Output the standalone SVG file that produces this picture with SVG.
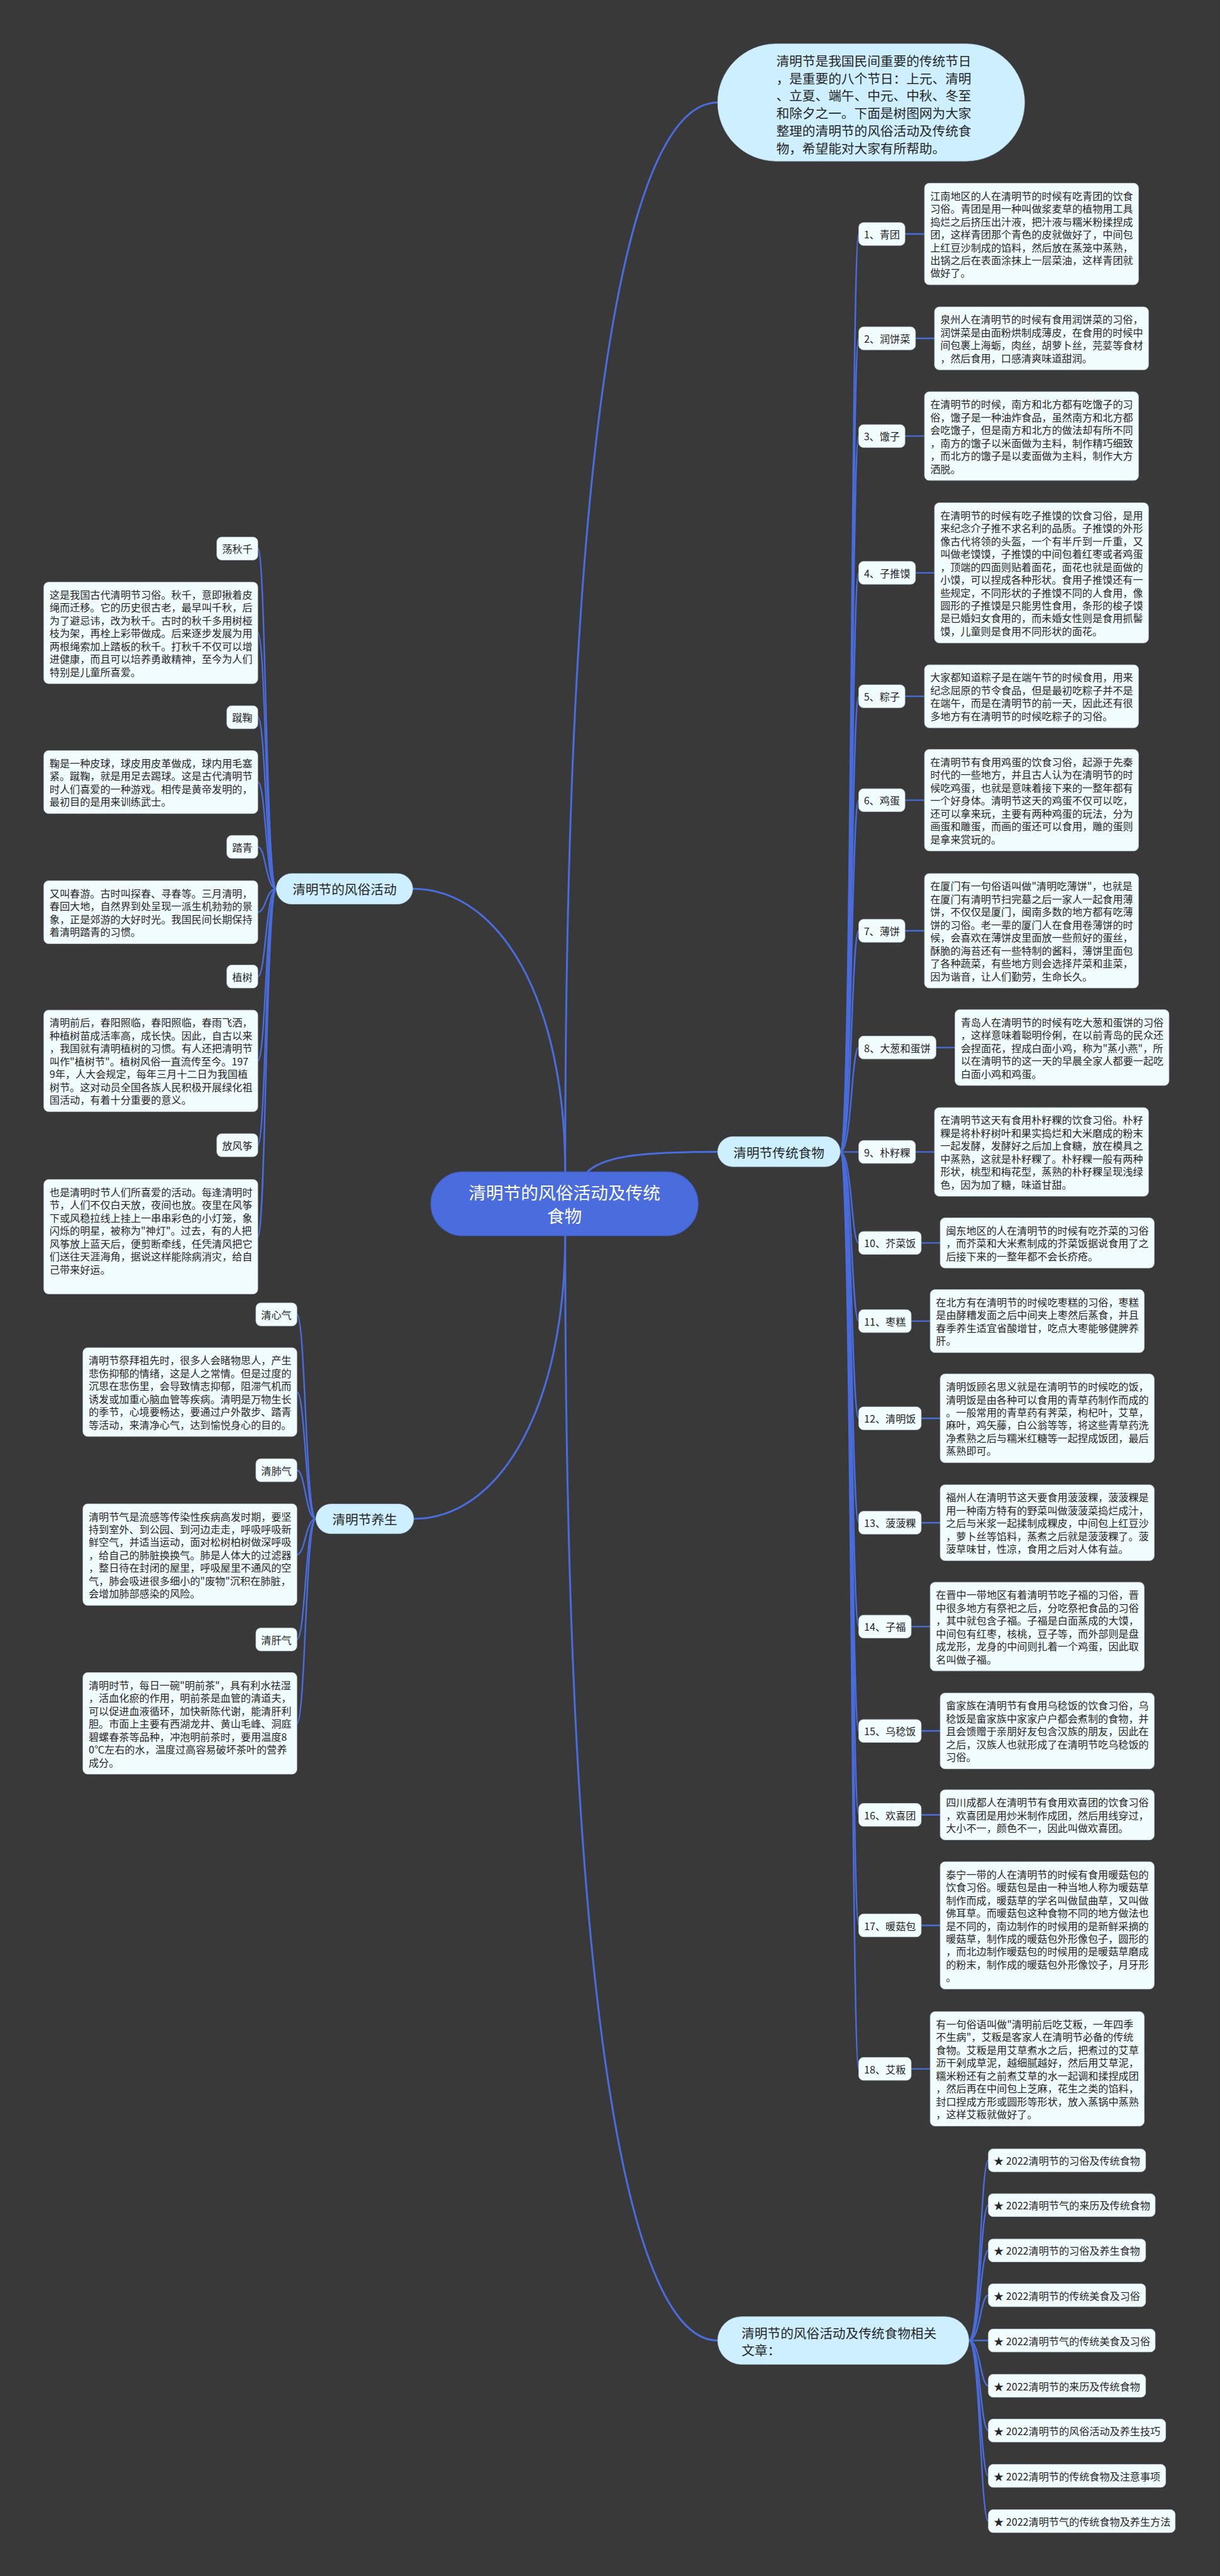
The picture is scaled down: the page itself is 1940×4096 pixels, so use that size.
<svg xmlns="http://www.w3.org/2000/svg" width="1940" height="4096" viewBox="0 0 1940 4096">
<style>
.bg{fill:#393939}
.ln{fill:none;stroke:#4a6cdc;stroke-width:3.2;stroke-linecap:round}
.ln0{fill:none;stroke:#4a6cdc;stroke-width:4;stroke-linecap:round}
.leaf{fill:#f1fcff;stroke:#cfdde3;stroke-width:1}
.br{fill:#cdefff;stroke:#b8dcec;stroke-width:1}
.root{fill:#4a6cdc;stroke:#3f5fc8;stroke-width:1.5}
text{font-family:"Noto Sans CJK SC","Noto Sans",sans-serif;fill:#262626}
text,tspan{dominant-baseline:central}
.t{font-size:21.3px}
.lb{font-size:21.3px;text-anchor:middle}
.bt{font-size:27.3px}
.bc{font-size:27.3px;text-anchor:middle}
.rt{font-size:36.6px;text-anchor:middle;fill:#ffffff}
</style>
<rect class="bg" x="0" y="0" width="1940" height="4096"/>
<g transform="scale(0.7578)">
<g id="connectors">
<path class="ln0" d="M1186,2459 C1186,800 1330,215 1506,215"/>
<path class="ln0" d="M1229,2462 C1262,2428 1330,2417 1506,2417"/>
<path class="ln0" d="M1186,2459 C1186,2100 1050,1865 866,1865"/>
<path class="ln0" d="M1186,2593 C1186,2950 1050,3187 868,3187"/>
<path class="ln0" d="M1186,2593 C1186,4300 1330,4911 1506,4911"/>
<path class="ln" d="M1763,2417 C1788,2417 1786,491 1802,491"/>
<path class="ln" d="M1763,2417 C1788,2417 1786,710 1802,710"/>
<path class="ln" d="M1763,2417 C1788,2417 1786,915 1802,915"/>
<path class="ln" d="M1763,2417 C1788,2417 1786,1202 1802,1202"/>
<path class="ln" d="M1763,2417 C1788,2417 1786,1461 1802,1461"/>
<path class="ln" d="M1763,2417 C1788,2417 1786,1679 1802,1679"/>
<path class="ln" d="M1763,2417 C1788,2417 1786,1953 1802,1953"/>
<path class="ln" d="M1763,2417 C1788,2417 1786,2198 1802,2198"/>
<path class="ln" d="M1763,2417 L1802,2417"/>
<path class="ln" d="M1763,2417 C1788,2417 1786,2608 1802,2608"/>
<path class="ln" d="M1763,2417 C1788,2417 1786,2772 1802,2772"/>
<path class="ln" d="M1763,2417 C1788,2417 1786,2976 1802,2976"/>
<path class="ln" d="M1763,2417 C1788,2417 1786,3195 1802,3195"/>
<path class="ln" d="M1763,2417 C1788,2417 1786,3413 1802,3413"/>
<path class="ln" d="M1763,2417 C1788,2417 1786,3632 1802,3632"/>
<path class="ln" d="M1763,2417 C1788,2417 1786,3808 1802,3808"/>
<path class="ln" d="M1763,2417 C1788,2417 1786,4040 1802,4040"/>
<path class="ln" d="M1763,2417 C1788,2417 1786,4341 1802,4341"/>
<path class="ln" d="M1899,491 H1940"/>
<path class="ln" d="M1921,710 H1961"/>
<path class="ln" d="M1899,915 H1940"/>
<path class="ln" d="M1921,1202 H1961"/>
<path class="ln" d="M1899,1461 H1940"/>
<path class="ln" d="M1899,1679 H1940"/>
<path class="ln" d="M1899,1953 H1940"/>
<path class="ln" d="M1964,2198 H2004"/>
<path class="ln" d="M1921,2417 H1961"/>
<path class="ln" d="M1933,2608 H1973"/>
<path class="ln" d="M1912,2772 H1952"/>
<path class="ln" d="M1933,2976 H1973"/>
<path class="ln" d="M1933,3195 H1973"/>
<path class="ln" d="M1912,3413 H1952"/>
<path class="ln" d="M1933,3632 H1973"/>
<path class="ln" d="M1933,3808 H1973"/>
<path class="ln" d="M1933,4040 H1973"/>
<path class="ln" d="M1912,4341 H1952"/>
<path class="ln" d="M580,1865 C558,1865 558,1151 541,1151"/>
<path class="ln" d="M580,1865 C558,1865 558,1328 541,1328"/>
<path class="ln" d="M580,1865 C558,1865 558,1505 541,1505"/>
<path class="ln" d="M580,1865 C558,1865 558,1641 541,1641"/>
<path class="ln" d="M580,1865 C558,1865 558,1777 541,1777"/>
<path class="ln" d="M580,1865 C558,1865 558,1914 541,1914"/>
<path class="ln" d="M580,1865 C558,1865 558,2049 541,2049"/>
<path class="ln" d="M580,1865 C558,1865 558,2226 541,2226"/>
<path class="ln" d="M580,1865 C558,1865 558,2403 541,2403"/>
<path class="ln" d="M580,1865 C558,1865 558,2595 541,2595"/>
<path class="ln" d="M663,3187 C641,3187 641,2758 623,2758"/>
<path class="ln" d="M663,3187 C641,3187 641,2921 623,2921"/>
<path class="ln" d="M663,3187 C641,3187 641,3085 623,3085"/>
<path class="ln" d="M663,3187 C641,3187 641,3262 623,3262"/>
<path class="ln" d="M663,3187 C641,3187 641,3440 623,3440"/>
<path class="ln" d="M663,3187 C641,3187 641,3616 623,3616"/>
<path class="ln" d="M2033,4911 C2057,4911 2057,4533 2074,4533"/>
<path class="ln" d="M2033,4911 C2057,4911 2057,4627 2074,4627"/>
<path class="ln" d="M2033,4911 C2057,4911 2057,4722 2074,4722"/>
<path class="ln" d="M2033,4911 C2057,4911 2057,4816 2074,4816"/>
<path class="ln" d="M2033,4911 L2074,4911"/>
<path class="ln" d="M2033,4911 C2057,4911 2057,5006 2074,5006"/>
<path class="ln" d="M2033,4911 C2057,4911 2057,5100 2074,5100"/>
<path class="ln" d="M2033,4911 C2057,4911 2057,5195 2074,5195"/>
<path class="ln" d="M2033,4911 C2057,4911 2057,5290 2074,5290"/>
</g>

<g id="root"><rect class="root" x="904" y="2459" width="561" height="134" rx="67"/>
<text class="rt"><tspan x="1184.5" y="2501">清明节的风俗活动及传统</tspan><tspan x="1184.5" y="2549">食物</tspan></text></g>

<g id="intro"><rect class="br" x="1506" y="92" width="644" height="246" rx="123"/>
<text class="bt"><tspan x="1629" y="126.5">清明节是我国民间重要的传统节日</tspan><tspan x="1629" y="163.1">，是重要的八个节日：上元、清明</tspan><tspan x="1629" y="199.7">、立夏、端午、中元、中秋、冬至</tspan><tspan x="1629" y="236.3">和除夕之一。下面是树图网为大家</tspan><tspan x="1629" y="272.9">整理的清明节的风俗活动及传统食</tspan><tspan x="1629" y="309.5">物，希望能对大家有所帮助。</tspan></text></g>

<g id="branch-food"><rect class="br" x="1506" y="2385" width="257" height="63" rx="31.5"/><text class="bc" x="1634.5" y="2417">清明节传统食物</text></g>
<g id="branch-activities"><rect class="br" x="580" y="1833" width="286" height="64" rx="32"/><text class="bc" x="723" y="1865">清明节的风俗活动</text></g>
<g id="branch-health"><rect class="br" x="663" y="3156" width="205" height="62" rx="31"/><text class="bc" x="765.5" y="3187">清明节养生</text></g>
<g id="branch-articles"><rect class="br" x="1506" y="4861" width="527" height="100" rx="50"/>
<text class="bt"><tspan x="1556" y="4894">清明节的风俗活动及传统食物相关</tspan><tspan x="1556" y="4930">文章：</tspan></text></g>

<g id="food-1"><rect class="leaf" x="1802" y="467" width="97" height="48" rx="10"/><text class="lb" x="1850.5" y="491">1、青团</text>
<rect class="leaf" x="1940" y="384.5" width="449" height="213" rx="10"/>
<text class="t"><tspan x="1952" y="410">江南地区的人在清明节的时候有吃青团的饮食</tspan><tspan x="1952" y="437">习俗。青团是用一种叫做浆麦草的植物用工具</tspan><tspan x="1952" y="464">捣烂之后挤压出汁液，把汁液与糯米粉揉捏成</tspan><tspan x="1952" y="491">团，这样青团那个青色的皮就做好了，中间包</tspan><tspan x="1952" y="518">上红豆沙制成的馅料，然后放在蒸笼中蒸熟，</tspan><tspan x="1952" y="545">出锅之后在表面涂抹上一层菜油，这样青团就</tspan><tspan x="1952" y="572">做好了。</tspan></text></g>

<g id="food-2"><rect class="leaf" x="1802" y="686" width="119" height="48" rx="10"/><text class="lb" x="1861.5" y="710">2、润饼菜</text>
<rect class="leaf" x="1961" y="644" width="449" height="132" rx="10"/>
<text class="t"><tspan x="1973" y="669.5">泉州人在清明节的时候有食用润饼菜的习俗，</tspan><tspan x="1973" y="696.5">润饼菜是由面粉烘制成薄皮，在食用的时候中</tspan><tspan x="1973" y="723.5">间包裹上海蛎，肉丝，胡萝卜丝，芫荽等食材</tspan><tspan x="1973" y="750.5">，然后食用，口感清爽味道甜润。</tspan></text></g>

<g id="food-3"><rect class="leaf" x="1802" y="891" width="97" height="48" rx="10"/><text class="lb" x="1850.5" y="915">3、馓子</text>
<rect class="leaf" x="1940" y="822" width="449" height="186" rx="10"/>
<text class="t"><tspan x="1952" y="847.5">在清明节的时候，南方和北方都有吃馓子的习</tspan><tspan x="1952" y="874.5">俗，馓子是一种油炸食品，虽然南方和北方都</tspan><tspan x="1952" y="901.5">会吃馓子，但是南方和北方的做法却有所不同</tspan><tspan x="1952" y="928.5">，南方的馓子以米面做为主料，制作精巧细致</tspan><tspan x="1952" y="955.5">，而北方的馓子是以麦面做为主料，制作大方</tspan><tspan x="1952" y="982.5">洒脱。</tspan></text></g>

<g id="food-4"><rect class="leaf" x="1802" y="1178" width="119" height="48" rx="10"/><text class="lb" x="1861.5" y="1202">4、子推馍</text>
<rect class="leaf" x="1961" y="1055" width="449" height="294" rx="10"/>
<text class="t"><tspan x="1973" y="1080.5">在清明节的时候有吃子推馍的饮食习俗，是用</tspan><tspan x="1973" y="1107.5">来纪念介子推不求名利的品质。子推馍的外形</tspan><tspan x="1973" y="1134.5">像古代将领的头盔，一个有半斤到一斤重，又</tspan><tspan x="1973" y="1161.5">叫做老馍馍，子推馍的中间包着红枣或者鸡蛋</tspan><tspan x="1973" y="1188.5">，顶端的四面则贴着面花，面花也就是面做的</tspan><tspan x="1973" y="1215.5">小馍，可以捏成各种形状。食用子推馍还有一</tspan><tspan x="1973" y="1242.5">些规定，不同形状的子推馍不同的人食用，像</tspan><tspan x="1973" y="1269.5">圆形的子推馍是只能男性食用，条形的梭子馍</tspan><tspan x="1973" y="1296.5">是已婚妇女食用的，而未婚女性则是食用抓髻</tspan><tspan x="1973" y="1323.5">馍，儿童则是食用不同形状的面花。</tspan></text></g>

<g id="food-5"><rect class="leaf" x="1802" y="1437" width="97" height="48" rx="10"/><text class="lb" x="1850.5" y="1461">5、粽子</text>
<rect class="leaf" x="1940" y="1395" width="449" height="132" rx="10"/>
<text class="t"><tspan x="1952" y="1420.5">大家都知道粽子是在端午节的时候食用，用来</tspan><tspan x="1952" y="1447.5">纪念屈原的节令食品，但是最初吃粽子并不是</tspan><tspan x="1952" y="1474.5">在端午，而是在清明节的前一天，因此还有很</tspan><tspan x="1952" y="1501.5">多地方有在清明节的时候吃粽子的习俗。</tspan></text></g>

<g id="food-6"><rect class="leaf" x="1802" y="1655" width="97" height="48" rx="10"/><text class="lb" x="1850.5" y="1679">6、鸡蛋</text>
<rect class="leaf" x="1940" y="1572.5" width="449" height="213" rx="10"/>
<text class="t"><tspan x="1952" y="1598">在清明节有食用鸡蛋的饮食习俗，起源于先秦</tspan><tspan x="1952" y="1625">时代的一些地方，并且古人认为在清明节的时</tspan><tspan x="1952" y="1652">候吃鸡蛋，也就是意味着接下来的一整年都有</tspan><tspan x="1952" y="1679">一个好身体。清明节这天的鸡蛋不仅可以吃，</tspan><tspan x="1952" y="1706">还可以拿来玩，主要有两种鸡蛋的玩法，分为</tspan><tspan x="1952" y="1733">画蛋和雕蛋，而画的蛋还可以食用，雕的蛋则</tspan><tspan x="1952" y="1760">是拿来赏玩的。</tspan></text></g>

<g id="food-7"><rect class="leaf" x="1802" y="1929" width="97" height="48" rx="10"/><text class="lb" x="1850.5" y="1953">7、薄饼</text>
<rect class="leaf" x="1940" y="1833" width="449" height="240" rx="10"/>
<text class="t"><tspan x="1952" y="1858.5">在厦门有一句俗语叫做"清明吃薄饼"，也就是</tspan><tspan x="1952" y="1885.5">在厦门有清明节扫完墓之后一家人一起食用薄</tspan><tspan x="1952" y="1912.5">饼，不仅仅是厦门，闽南多数的地方都有吃薄</tspan><tspan x="1952" y="1939.5">饼的习俗。老一辈的厦门人在食用卷薄饼的时</tspan><tspan x="1952" y="1966.5">候，会喜欢在薄饼皮里面放一些煎好的蛋丝，</tspan><tspan x="1952" y="1993.5">酥脆的海苔还有一些特制的酱料，薄饼里面包</tspan><tspan x="1952" y="2020.5">了各种蔬菜，有些地方则会选择芹菜和韭菜，</tspan><tspan x="1952" y="2047.5">因为谐音，让人们勤劳，生命长久。</tspan></text></g>

<g id="food-8"><rect class="leaf" x="1802" y="2174" width="162" height="48" rx="10"/><text class="lb" x="1883" y="2198">8、大葱和蛋饼</text>
<rect class="leaf" x="2004" y="2118.5" width="449" height="159" rx="10"/>
<text class="t"><tspan x="2016" y="2144">青岛人在清明节的时候有吃大葱和蛋饼的习俗</tspan><tspan x="2016" y="2171">，这样意味着聪明伶俐，在以前青岛的民众还</tspan><tspan x="2016" y="2198">会捏面花，捏成白面小鸡，称为"蒸小燕"，所</tspan><tspan x="2016" y="2225">以在清明节的这一天的早晨全家人都要一起吃</tspan><tspan x="2016" y="2252">白面小鸡和鸡蛋。</tspan></text></g>

<g id="food-9"><rect class="leaf" x="1802" y="2393" width="119" height="48" rx="10"/><text class="lb" x="1861.5" y="2417">9、朴籽粿</text>
<rect class="leaf" x="1961" y="2324" width="449" height="186" rx="10"/>
<text class="t"><tspan x="1973" y="2349.5">在清明节这天有食用朴籽粿的饮食习俗。朴籽</tspan><tspan x="1973" y="2376.5">粿是将朴籽树叶和果实捣烂和大米磨成的粉末</tspan><tspan x="1973" y="2403.5">一起发酵，发酵好之后加上食糖，放在模具之</tspan><tspan x="1973" y="2430.5">中蒸熟，这就是朴籽粿了。朴籽粿一般有两种</tspan><tspan x="1973" y="2457.5">形状，桃型和梅花型，蒸熟的朴籽粿呈现浅绿</tspan><tspan x="1973" y="2484.5">色，因为加了糖，味道甘甜。</tspan></text></g>

<g id="food-10"><rect class="leaf" x="1802" y="2584" width="131" height="48" rx="10"/><text class="lb" x="1867.5" y="2608">10、芥菜饭</text>
<rect class="leaf" x="1973" y="2555.5" width="449" height="105" rx="10"/>
<text class="t"><tspan x="1985" y="2581">闽东地区的人在清明节的时候有吃芥菜的习俗</tspan><tspan x="1985" y="2608">，而芥菜和大米煮制成的芥菜饭据说食用了之</tspan><tspan x="1985" y="2635">后接下来的一整年都不会长疥疮。</tspan></text></g>

<g id="food-11"><rect class="leaf" x="1802" y="2748" width="110" height="48" rx="10"/><text class="lb" x="1857" y="2772">11、枣糕</text>
<rect class="leaf" x="1952" y="2706" width="449" height="132" rx="10"/>
<text class="t"><tspan x="1964" y="2731.5">在北方有在清明节的时候吃枣糕的习俗，枣糕</tspan><tspan x="1964" y="2758.5">是由酵糟发面之后中间夹上枣然后蒸食，并且</tspan><tspan x="1964" y="2785.5">春季养生适宜省酸增甘，吃点大枣能够健脾养</tspan><tspan x="1964" y="2812.5">肝。</tspan></text></g>

<g id="food-12"><rect class="leaf" x="1802" y="2952" width="131" height="48" rx="10"/><text class="lb" x="1867.5" y="2976">12、清明饭</text>
<rect class="leaf" x="1973" y="2883" width="449" height="186" rx="10"/>
<text class="t"><tspan x="1985" y="2908.5">清明饭顾名思义就是在清明节的时候吃的饭，</tspan><tspan x="1985" y="2935.5">清明饭是由各种可以食用的青草药制作而成的</tspan><tspan x="1985" y="2962.5">。一般常用的青草药有荠菜，枸杞叶，艾草，</tspan><tspan x="1985" y="2989.5">麻叶，鸡矢藤，白公翁等等，将这些青草药洗</tspan><tspan x="1985" y="3016.5">净煮熟之后与糯米红糖等一起捏成饭团，最后</tspan><tspan x="1985" y="3043.5">蒸熟即可。</tspan></text></g>

<g id="food-13"><rect class="leaf" x="1802" y="3171" width="131" height="48" rx="10"/><text class="lb" x="1867.5" y="3195">13、菠菠粿</text>
<rect class="leaf" x="1973" y="3115.5" width="449" height="159" rx="10"/>
<text class="t"><tspan x="1985" y="3141">福州人在清明节这天要食用菠菠粿，菠菠粿是</tspan><tspan x="1985" y="3168">用一种南方特有的野菜叫做菠菠菜捣烂成汁，</tspan><tspan x="1985" y="3195">之后与米浆一起揉制成粿皮，中间包上红豆沙</tspan><tspan x="1985" y="3222">，萝卜丝等馅料，蒸煮之后就是菠菠粿了。菠</tspan><tspan x="1985" y="3249">菠草味甘，性凉，食用之后对人体有益。</tspan></text></g>

<g id="food-14"><rect class="leaf" x="1802" y="3389" width="110" height="48" rx="10"/><text class="lb" x="1857" y="3413">14、子福</text>
<rect class="leaf" x="1952" y="3320" width="449" height="186" rx="10"/>
<text class="t"><tspan x="1964" y="3345.5">在晋中一带地区有着清明节吃子福的习俗，晋</tspan><tspan x="1964" y="3372.5">中很多地方有祭祀之后，分吃祭祀食品的习俗</tspan><tspan x="1964" y="3399.5">，其中就包含子福。子福是白面蒸成的大馍，</tspan><tspan x="1964" y="3426.5">中间包有红枣，核桃，豆子等，而外部则是盘</tspan><tspan x="1964" y="3453.5">成龙形，龙身的中间则扎着一个鸡蛋，因此取</tspan><tspan x="1964" y="3480.5">名叫做子福。</tspan></text></g>

<g id="food-15"><rect class="leaf" x="1802" y="3608" width="131" height="48" rx="10"/><text class="lb" x="1867.5" y="3632">15、乌稔饭</text>
<rect class="leaf" x="1973" y="3552.5" width="449" height="159" rx="10"/>
<text class="t"><tspan x="1985" y="3578">畲家族在清明节有食用乌稔饭的饮食习俗，乌</tspan><tspan x="1985" y="3605">稔饭是畲家族中家家户户都会煮制的食物，并</tspan><tspan x="1985" y="3632">且会馈赠于亲朋好友包含汉族的朋友，因此在</tspan><tspan x="1985" y="3659">之后，汉族人也就形成了在清明节吃乌稔饭的</tspan><tspan x="1985" y="3686">习俗。</tspan></text></g>

<g id="food-16"><rect class="leaf" x="1802" y="3784" width="131" height="48" rx="10"/><text class="lb" x="1867.5" y="3808">16、欢喜团</text>
<rect class="leaf" x="1973" y="3755.5" width="449" height="105" rx="10"/>
<text class="t"><tspan x="1985" y="3781">四川成都人在清明节有食用欢喜团的饮食习俗</tspan><tspan x="1985" y="3808">，欢喜团是用炒米制作成团，然后用线穿过，</tspan><tspan x="1985" y="3835">大小不一，颜色不一，因此叫做欢喜团。</tspan></text></g>

<g id="food-17"><rect class="leaf" x="1802" y="4016" width="131" height="48" rx="10"/><text class="lb" x="1867.5" y="4040">17、暖菇包</text>
<rect class="leaf" x="1973" y="3906.5" width="449" height="267" rx="10"/>
<text class="t"><tspan x="1985" y="3932">泰宁一带的人在清明节的时候有食用暖菇包的</tspan><tspan x="1985" y="3959">饮食习俗。暖菇包是由一种当地人称为暖菇草</tspan><tspan x="1985" y="3986">制作而成，暖菇草的学名叫做鼠曲草，又叫做</tspan><tspan x="1985" y="4013">佛耳草。而暖菇包这种食物不同的地方做法也</tspan><tspan x="1985" y="4040">是不同的，南边制作的时候用的是新鲜采摘的</tspan><tspan x="1985" y="4067">暖菇草，制作成的暖菇包外形像包子，圆形的</tspan><tspan x="1985" y="4094">，而北边制作暖菇包的时候用的是暖菇草磨成</tspan><tspan x="1985" y="4121">的粉末，制作成的暖菇包外形像饺子，月牙形</tspan><tspan x="1985" y="4148">。</tspan></text></g>

<g id="food-18"><rect class="leaf" x="1802" y="4317" width="110" height="48" rx="10"/><text class="lb" x="1857" y="4341">18、艾粄</text>
<rect class="leaf" x="1952" y="4221" width="449" height="240" rx="10"/>
<text class="t"><tspan x="1964" y="4246.5">有一句俗语叫做"清明前后吃艾粄，一年四季</tspan><tspan x="1964" y="4273.5">不生病"，艾粄是客家人在清明节必备的传统</tspan><tspan x="1964" y="4300.5">食物。艾粄是用艾草煮水之后，把煮过的艾草</tspan><tspan x="1964" y="4327.5">沥干剁成草泥，越细腻越好，然后用艾草泥，</tspan><tspan x="1964" y="4354.5">糯米粉还有之前煮艾草的水一起调和揉捏成团</tspan><tspan x="1964" y="4381.5">，然后再在中间包上芝麻，花生之类的馅料，</tspan><tspan x="1964" y="4408.5">封口捏成方形或圆形等形状，放入蒸锅中蒸熟</tspan><tspan x="1964" y="4435.5">，这样艾粄就做好了。</tspan></text></g>

<g id="act-swing"><rect class="leaf" x="455" y="1127" width="86" height="48" rx="10"/><text class="lb" x="498" y="1151">荡秋千</text>
<rect class="leaf" x="92" y="1221.5" width="449" height="213" rx="10"/>
<text class="t"><tspan x="104" y="1247">这是我国古代清明节习俗。秋千，意即揪着皮</tspan><tspan x="104" y="1274">绳而迁移。它的历史很古老，最早叫千秋，后</tspan><tspan x="104" y="1301">为了避忌讳，改为秋千。古时的秋千多用树桠</tspan><tspan x="104" y="1328">枝为架，再栓上彩带做成。后来逐步发展为用</tspan><tspan x="104" y="1355">两根绳索加上踏板的秋千。打秋千不仅可以增</tspan><tspan x="104" y="1382">进健康，而且可以培养勇敢精神，至今为人们</tspan><tspan x="104" y="1409">特别是儿童所喜爱。</tspan></text></g>

<g id="act-cuju"><rect class="leaf" x="476" y="1481" width="65" height="48" rx="10"/><text class="lb" x="508.5" y="1505">蹴鞠</text>
<rect class="leaf" x="92" y="1575" width="449" height="132" rx="10"/>
<text class="t"><tspan x="104" y="1600.5">鞠是一种皮球，球皮用皮革做成，球内用毛塞</tspan><tspan x="104" y="1627.5">紧。蹴鞠，就是用足去踢球。这是古代清明节</tspan><tspan x="104" y="1654.5">时人们喜爱的一种游戏。相传是黄帝发明的，</tspan><tspan x="104" y="1681.5">最初目的是用来训练武士。</tspan></text></g>

<g id="act-taqing"><rect class="leaf" x="476" y="1753" width="65" height="48" rx="10"/><text class="lb" x="508.5" y="1777">踏青</text>
<rect class="leaf" x="92" y="1848" width="449" height="132" rx="10"/>
<text class="t"><tspan x="104" y="1873.5">又叫春游。古时叫探春、寻春等。三月清明，</tspan><tspan x="104" y="1900.5">春回大地，自然界到处呈现一派生机勃勃的景</tspan><tspan x="104" y="1927.5">象，正是郊游的大好时光。我国民间长期保持</tspan><tspan x="104" y="1954.5">着清明踏青的习惯。</tspan></text></g>

<g id="act-tree"><rect class="leaf" x="476" y="2025" width="65" height="48" rx="10"/><text class="lb" x="508.5" y="2049">植树</text>
<rect class="leaf" x="92" y="2119.5" width="449" height="213" rx="10"/>
<text class="t"><tspan x="104" y="2145">清明前后，春阳照临，春阳照临，春雨飞洒，</tspan><tspan x="104" y="2172">种植树苗成活率高，成长快。因此，自古以来</tspan><tspan x="104" y="2199">，我国就有清明植树的习惯。有人还把清明节</tspan><tspan x="104" y="2226">叫作"植树节"。植树风俗一直流传至今。197</tspan><tspan x="104" y="2253">9年，人大会规定，每年三月十二日为我国植</tspan><tspan x="104" y="2280">树节。这对动员全国各族人民积极开展绿化祖</tspan><tspan x="104" y="2307">国活动，有着十分重要的意义。</tspan></text></g>

<g id="act-kite"><rect class="leaf" x="455" y="2379" width="86" height="48" rx="10"/><text class="lb" x="498" y="2403">放风筝</text>
<rect class="leaf" x="92" y="2475" width="449" height="240" rx="10"/>
<text class="t"><tspan x="104" y="2500.5">也是清明时节人们所喜爱的活动。每逢清明时</tspan><tspan x="104" y="2527.5">节，人们不仅白天放，夜间也放。夜里在风筝</tspan><tspan x="104" y="2554.5">下或风稳拉线上挂上一串串彩色的小灯笼，象</tspan><tspan x="104" y="2581.5">闪烁的明星，被称为"神灯"。过去，有的人把</tspan><tspan x="104" y="2608.5">风筝放上蓝天后，便剪断牵线，任凭清风把它</tspan><tspan x="104" y="2635.5">们送往天涯海角，据说这样能除病消灾，给自</tspan><tspan x="104" y="2662.5">己带来好运。</tspan></text></g>

<g id="health-heart"><rect class="leaf" x="537" y="2734" width="86" height="48" rx="10"/><text class="lb" x="580" y="2758">清心气</text>
<rect class="leaf" x="174" y="2828" width="449" height="186" rx="10"/>
<text class="t"><tspan x="186" y="2853.5">清明节祭拜祖先时，很多人会睹物思人，产生</tspan><tspan x="186" y="2880.5">悲伤抑郁的情绪，这是人之常情。但是过度的</tspan><tspan x="186" y="2907.5">沉思在悲伤里，会导致情志抑郁，阻滞气机而</tspan><tspan x="186" y="2934.5">诱发或加重心脑血管等疾病。清明是万物生长</tspan><tspan x="186" y="2961.5">的季节，心境要畅达，要通过户外散步、踏青</tspan><tspan x="186" y="2988.5">等活动，来清净心气，达到愉悦身心的目的。</tspan></text></g>

<g id="health-lung"><rect class="leaf" x="537" y="3061" width="86" height="48" rx="10"/><text class="lb" x="580" y="3085">清肺气</text>
<rect class="leaf" x="174" y="3155.5" width="449" height="213" rx="10"/>
<text class="t"><tspan x="186" y="3181">清明节气是流感等传染性疾病高发时期，要坚</tspan><tspan x="186" y="3208">持到室外、到公园、到河边走走，呼吸呼吸新</tspan><tspan x="186" y="3235">鲜空气，并适当运动，面对松树柏树做深呼吸</tspan><tspan x="186" y="3262">，给自己的肺脏换换气。肺是人体大的过滤器</tspan><tspan x="186" y="3289">，整日待在封闭的屋里，呼吸屋里不通风的空</tspan><tspan x="186" y="3316">气，肺会吸进很多细小的"废物"沉积在肺脏，</tspan><tspan x="186" y="3343">会增加肺部感染的风险。</tspan></text></g>

<g id="health-liver"><rect class="leaf" x="537" y="3416" width="86" height="48" rx="10"/><text class="lb" x="580" y="3440">清肝气</text>
<rect class="leaf" x="174" y="3509.5" width="449" height="213" rx="10"/>
<text class="t"><tspan x="186" y="3535">清明时节，每日一碗"明前茶"，具有利水祛湿</tspan><tspan x="186" y="3562">，活血化瘀的作用，明前茶是血管的清道夫，</tspan><tspan x="186" y="3589">可以促进血液循环，加快新陈代谢，能清肝利</tspan><tspan x="186" y="3616">胆。市面上主要有西湖龙井、黄山毛峰、洞庭</tspan><tspan x="186" y="3643">碧螺春茶等品种，冲泡明前茶时，要用温度8</tspan><tspan x="186" y="3670">0℃左右的水，温度过高容易破坏茶叶的营养</tspan><tspan x="186" y="3697">成分。</tspan></text></g>

<g id="art-1"><rect class="leaf" x="2074" y="4509" width="330" height="48" rx="10"/><text class="t" x="2085" y="4533">★ 2022清明节的习俗及传统食物</text></g>
<g id="art-2"><rect class="leaf" x="2074" y="4603" width="350" height="48" rx="10"/><text class="t" x="2085" y="4627">★ 2022清明节气的来历及传统食物</text></g>
<g id="art-3"><rect class="leaf" x="2074" y="4698" width="330" height="48" rx="10"/><text class="t" x="2085" y="4722">★ 2022清明节的习俗及养生食物</text></g>
<g id="art-4"><rect class="leaf" x="2074" y="4792" width="330" height="48" rx="10"/><text class="t" x="2085" y="4816">★ 2022清明节的传统美食及习俗</text></g>
<g id="art-5"><rect class="leaf" x="2074" y="4887" width="350" height="48" rx="10"/><text class="t" x="2085" y="4911">★ 2022清明节气的传统美食及习俗</text></g>
<g id="art-6"><rect class="leaf" x="2074" y="4982" width="330" height="48" rx="10"/><text class="t" x="2085" y="5006">★ 2022清明节的来历及传统食物</text></g>
<g id="art-7"><rect class="leaf" x="2074" y="5076" width="372" height="48" rx="10"/><text class="t" x="2085" y="5100">★ 2022清明节的风俗活动及养生技巧</text></g>
<g id="art-8"><rect class="leaf" x="2074" y="5171" width="372" height="48" rx="10"/><text class="t" x="2085" y="5195">★ 2022清明节的传统食物及注意事项</text></g>
<g id="art-9"><rect class="leaf" x="2074" y="5266" width="392" height="48" rx="10"/><text class="t" x="2085" y="5290">★ 2022清明节气的传统食物及养生方法</text></g>
</g>
</svg>
